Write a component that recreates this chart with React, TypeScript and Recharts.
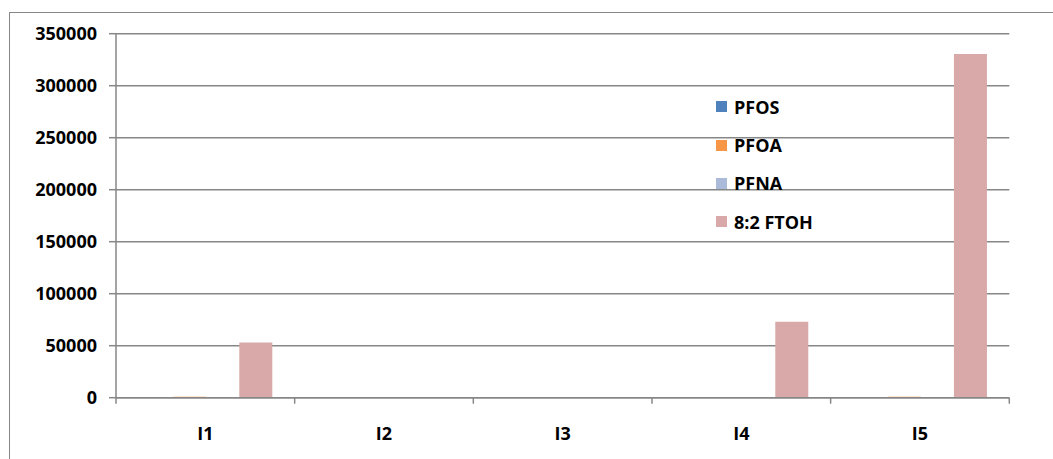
import React from 'react';
import { BarChart, Bar, XAxis, YAxis, CartesianGrid } from 'recharts';

const categories = ['I1', 'I2', 'I3', 'I4', 'I5'];
const pfos = [60, 20, 20, 30, 60];
const pfoa = [900, 30, 30, 40, 900];
const pfna = [120, 20, 20, 30, 120];
const ftoh = [53000, 0, 0, 73000, 330500];
const yTicks = [0, 50000, 100000, 150000, 200000, 250000, 300000, 350000];

const seriesNames = ['PFOS', 'PFOA', 'PFNA', '8:2 FTOH'];
const seriesKeys = ['pfos', 'pfoa', 'pfna', 'ftoh'];
const seriesColors = ['#4f81bd', '#f79646', '#aabad8', '#d9a9a9'];

const data = categories.map((c, i) => ({
  name: c,
  pfos: pfos[i],
  pfoa: pfoa[i],
  pfna: pfna[i],
  ftoh: ftoh[i],
}));

const FONT = '"Open Sans", "DejaVu Sans", sans-serif';
const GRAY = '#878787';
const W = 1053;
const H = 459;
const M = { top: 33.7, right: 43.7, bottom: 0, left: 16 };
const Y_W = 100;
const BAND = (W - M.left - M.right - Y_W) / categories.length;

const XTick = (props: any) => {
  const { x, y, payload, index } = props;
  const axisY = H - 61.3;
  const left = x - BAND / 2;
  const right = x + BAND / 2;
  return (
    <g>
      <line x1={left} x2={left} y1={axisY} y2={axisY + 6} stroke={GRAY} strokeWidth={1.5} />
      {index === categories.length - 1 && (
        <line x1={right} x2={right} y1={axisY} y2={axisY + 6} stroke={GRAY} strokeWidth={1.5} />
      )}
      <text x={x} y={y} dy="0.71em" textAnchor="middle" fill="#000" fontFamily={FONT} fontWeight={700} fontSize={18}>
        {payload.value}
      </text>
    </g>
  );
};

export default function App() {
  return (
    <div style={{ position: 'absolute', left: 0, top: 0, width: W, height: H, background: '#fff', overflow: 'hidden' }}>
      <div
        style={{
          position: 'absolute',
          left: 9,
          top: 12,
          width: 1100,
          height: 500,
          borderLeft: `1.5px solid ${GRAY}`,
          borderTop: `1.5px solid ${GRAY}`,
          boxSizing: 'border-box',
        }}
      />
      <div style={{ position: 'absolute', left: 0, top: 0 }}>
        <BarChart width={W} height={H} data={data} margin={M} barCategoryGap="13.6%" barGap={0}>
          <CartesianGrid vertical={false} stroke={GRAY} strokeWidth={1.5} />
          <XAxis
            dataKey="name"
            height={61.3}
            axisLine={{ stroke: GRAY, strokeWidth: 1.5 }}
            tickLine={false}
            tickSize={0}
            tickMargin={30}
            interval={0}
            tick={<XTick />}
          />
          <YAxis
            width={Y_W}
            domain={[0, 350000]}
            ticks={yTicks}
            axisLine={{ stroke: GRAY, strokeWidth: 1.5 }}
            tickLine={{ stroke: GRAY, strokeWidth: 1.5 }}
            tickSize={7}
            tickMargin={12}
            tick={{ fill: '#000', fontFamily: FONT, fontWeight: 700, fontSize: 18 }}
          />
          {seriesKeys.map((k, i) => (
            <Bar key={k} dataKey={k} name={seriesNames[i]} fill={seriesColors[i]} isAnimationActive={false} />
          ))}
        </BarChart>
      </div>
      <div
        style={{
          position: 'absolute',
          left: 716,
          top: 87.5,
          fontFamily: FONT,
          fontWeight: 700,
          fontSize: 18,
          color: '#000',
        }}
      >
        {seriesNames.map((n, i) => (
          <div key={n} style={{ display: 'flex', alignItems: 'center', height: 38.4 }}>
            <div style={{ width: 11, height: 11, background: seriesColors[i], marginRight: 7 }} />
            <span style={{ lineHeight: '20px' }}>{n}</span>
          </div>
        ))}
      </div>
    </div>
  );
}
